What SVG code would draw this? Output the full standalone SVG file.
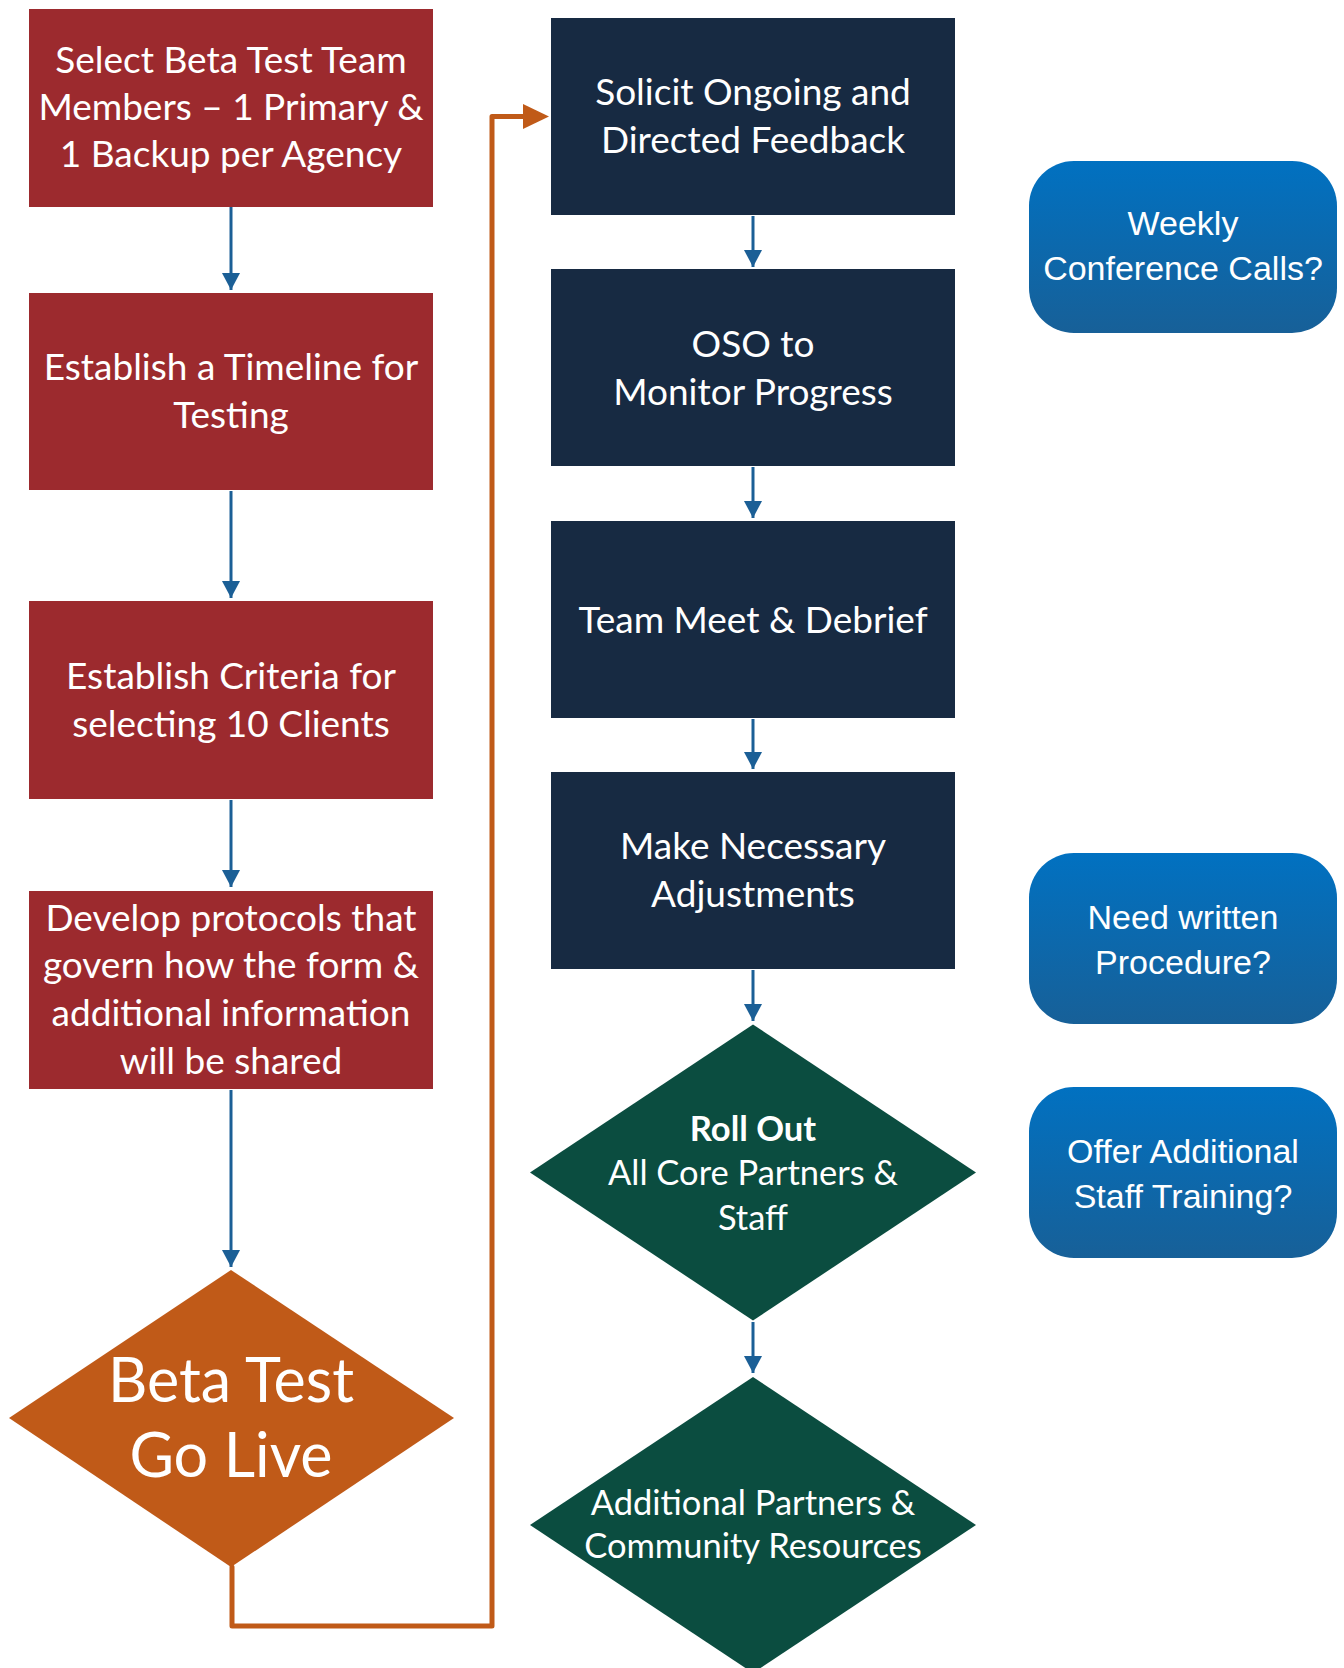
<svg xmlns="http://www.w3.org/2000/svg" width="1344" height="1668" viewBox="0 0 1344 1668">
<style>
.red{fill:#9C2A2E}
.navy{fill:#172A42}
.orange{fill:#C05A18}
.green{fill:#0B4D40}
.blue{fill:url(#bg)}
.t{font-family:Lato,"Open Sans","Liberation Sans",sans-serif;fill:#FFFFFF;text-anchor:middle;font-size:37px}
.g{font-size:34.5px}
.tb{font-weight:bold}
.big{font-size:61px}
.q{font-family:"Liberation Sans",Arial,sans-serif;fill:#FFFFFF;text-anchor:middle;font-size:34px}
.con{stroke:#1B5F96;stroke-width:3;fill:none;marker-end:url(#ah)}
.oc{stroke:#C05A18;stroke-width:5;fill:none;stroke-linejoin:round;stroke-linecap:round}
</style>
<defs>
<linearGradient id="bg" x1="0" y1="0" x2="0" y2="1">
<stop offset="0" stop-color="#0171C1"/>
<stop offset="1" stop-color="#176098"/>
</linearGradient>
<marker id="ah" markerUnits="userSpaceOnUse" markerWidth="18" markerHeight="18" refX="17" refY="9" orient="auto">
<path d="M0,0 L17,9 L0,18 Z" fill="#1B5F96"/>
</marker>
</defs>
<rect width="1344" height="1668" fill="#FFFFFF"/>

<g id="connectors">
<path class="con" d="M231,207 V290"/>
<path class="con" d="M231,491 V598"/>
<path class="con" d="M231,800 V887"/>
<path class="con" d="M231,1090 V1267"/>
<path class="con" d="M753,216 V267"/>
<path class="con" d="M753,467 V518"/>
<path class="con" d="M753,719 V769"/>
<path class="con" d="M753,970 V1021"/>
<path class="con" d="M753,1322 V1373"/>
<path class="oc" d="M232,1567 V1626 H492 V116.5 H526"/>
<polygon points="523,104 549,116.5 523,129" fill="#C05A18"/>
</g>

<g id="n1">
<rect class="red" x="29" y="9" width="404" height="198"/>
<text class="t" x="231" y="73">Select Beta Test Team</text>
<text class="t" x="231" y="120">Members – 1 Primary &amp;</text>
<text class="t" x="231" y="167">1 Backup per Agency</text>
</g>
<g id="n2">
<rect class="red" x="29" y="293" width="404" height="197"/>
<text class="t" x="231" y="380">Establish a Timeline for</text>
<text class="t" x="231" y="428">Testing</text>
</g>
<g id="n3">
<rect class="red" x="29" y="601" width="404" height="198"/>
<text class="t" x="231" y="689">Establish Criteria for</text>
<text class="t" x="231" y="737">selecting 10 Clients</text>
</g>
<g id="n4">
<rect class="red" x="29" y="891" width="404" height="198"/>
<text class="t" x="231" y="931">Develop protocols that</text>
<text class="t" x="231" y="978">govern how the form &amp;</text>
<text class="t" x="231" y="1026">additional information</text>
<text class="t" x="231" y="1074">will be shared</text>
</g>
<g id="n5">
<polygon class="orange" points="231,1270 454,1418 231,1567 9,1418"/>
<text class="t big" x="231" y="1402">Beta Test</text>
<text class="t big" x="231" y="1477">Go Live</text>
</g>

<g id="n6">
<rect class="navy" x="551" y="18" width="404" height="197"/>
<text class="t" x="753" y="105">Solicit Ongoing and</text>
<text class="t" x="753" y="153">Directed Feedback</text>
</g>
<g id="n7">
<rect class="navy" x="551" y="269" width="404" height="197"/>
<text class="t" x="753" y="357">OSO to</text>
<text class="t" x="753" y="405">Monitor Progress</text>
</g>
<g id="n8">
<rect class="navy" x="551" y="521" width="404" height="197"/>
<text class="t" x="753" y="633">Team Meet &amp; Debrief</text>
</g>
<g id="n9">
<rect class="navy" x="551" y="772" width="404" height="197"/>
<text class="t" x="753" y="859">Make Necessary</text>
<text class="t" x="753" y="907">Adjustments</text>
</g>
<g id="n10">
<polygon class="green" points="753,1024.5 976,1172.5 753,1320.5 530,1172.5"/>
<text class="t g tb" x="753" y="1141">Roll Out</text>
<text class="t g" x="753" y="1185">All Core Partners &amp;</text>
<text class="t g" x="753" y="1230">Staff</text>
</g>
<g id="n11">
<polygon class="green" points="753,1377 976,1525 753,1673 530,1525"/>
<text class="t g" x="753" y="1515">Additional Partners &amp;</text>
<text class="t g" x="753" y="1558">Community Resources</text>
</g>

<g id="n12">
<rect class="blue" x="1029" y="161" width="308" height="172" rx="45" ry="45"/>
<text class="q" x="1183" y="235">Weekly</text>
<text class="q" x="1183" y="280">Conference Calls?</text>
</g>
<g id="n13">
<rect class="blue" x="1029" y="853" width="308" height="171" rx="45" ry="45"/>
<text class="q" x="1183" y="929">Need written</text>
<text class="q" x="1183" y="974">Procedure?</text>
</g>
<g id="n14">
<rect class="blue" x="1029" y="1087" width="308" height="171" rx="45" ry="45"/>
<text class="q" x="1183" y="1163">Offer Additional</text>
<text class="q" x="1183" y="1208">Staff Training?</text>
</g>
</svg>
